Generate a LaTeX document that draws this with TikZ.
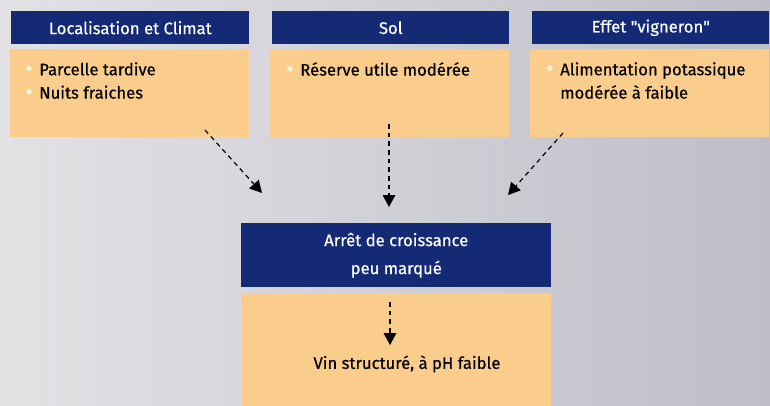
\documentclass[tikz,border=0pt]{standalone}
\usepackage{fontspec}
\setmainfont{Fira Sans}[FakeBold=0.4]
\newfontfamily\plainquote{Fira Sans}[FakeBold=0.4]
\usepackage{tikz}
\usetikzlibrary{arrows.meta, positioning}

\definecolor{navy}{HTML}{152A75}
\definecolor{peach}{HTML}{FBCD8C}
\definecolor{dotc}{HTML}{FFF3DC}
\definecolor{bgleft}{HTML}{E2E2E5}
\definecolor{bgmid}{HTML}{EEEEF0}
\definecolor{bgright}{HTML}{BEBEC8}
\newcommand{\bul}{\makebox[10.5pt][l]{\textcolor{dotc}{\fontsize{17}{0}\selectfont\raisebox{-0.6pt}{\textbullet}}}}
\newcommand{\dq}{{\plainquote"}}

\begin{document}
\begin{tikzpicture}[
        x=0.75pt, y=-0.75pt,
        head/.style={rectangle, fill=navy, text=white, anchor=north west, inner sep=0pt, minimum height=24.75pt, font=\fontsize{12.5}{16}\selectfont},
        body/.style={rectangle, fill=peach, anchor=north west, inner sep=0pt, minimum width=179.25pt, minimum height=66pt},
        items/.style={anchor=north west, align=left, inner sep=0pt, font=\fontsize{12.5}{17.5}\selectfont},
        arrow/.style={line width=0.9pt, dash pattern=on 3.5pt off 3pt, -{Triangle[length=9pt,width=9.5pt]}}
    ]
        % Background
        \shade[left color=bgleft, middle color=bgmid, right color=bgright] (0,0) rectangle (770,406);
        \useasboundingbox (0,0) rectangle (770,406);

        % Top row: headings
        \node[head, minimum width=178.5pt] (locHead) at (11,11) {Localisation et Climat};
        \node[head, minimum width=177.75pt] (solHead) at (272,11) {Sol};
        \node[head, minimum width=177.75pt] (vigHead) at (532,11) {Effet \dq vigneron\dq};

        % Top row: boxes
        \node[body] (locBody) at (10,49) {};
        \node[body] (solBody) at (270,49) {};
        \node[body] (vigBody) at (530,49) {};

        \node[items] (locItems) at (25,62) {\bul Parcelle tardive\\\bul Nuits fraiches};
        \node[items] (solItems) at (286,62) {\bul R\'eserve utile mod\'er\'ee};
        \node[items] (vigItems) at (546,62) {\bul Alimentation potassique\\\hphantom{\bul}mod\'er\'ee \`a faible};

        % Centre column
        \node[head, minimum width=232.5pt, minimum height=48pt, align=center, font=\fontsize{12.5}{21}\selectfont] (arretHead) at (241,223) {Arr\^et de croissance\\peu marqu\'e};
        \node[body, minimum width=232.5pt, minimum height=84.75pt] (vinBody) at (241,293) {};
        \node[inner sep=0pt, font=\fontsize{12.5}{16}\selectfont] (vinText) at (407,364) {Vin structur\'e, \`a pH faible};

        % Arrow ends
        \coordinate (locOut) at (205,130);
        \coordinate (locIn) at (262,193);
        \coordinate (solOut) at (389,124);
        \coordinate (solIn) at (389,207);
        \coordinate (vigOut) at (563,133);
        \coordinate (vigIn) at (508,195);
        \coordinate (vinOut) at (390,302);
        \coordinate (vinIn) at (390,345);

        % Arrows
        \draw[arrow] (locOut) -- (locIn);
        \draw[arrow] (solOut) -- (solIn);
        \draw[arrow] (vigOut) -- (vigIn);
        \draw[arrow] (vinOut) -- (vinIn);

    \end{tikzpicture}
\end{document}
